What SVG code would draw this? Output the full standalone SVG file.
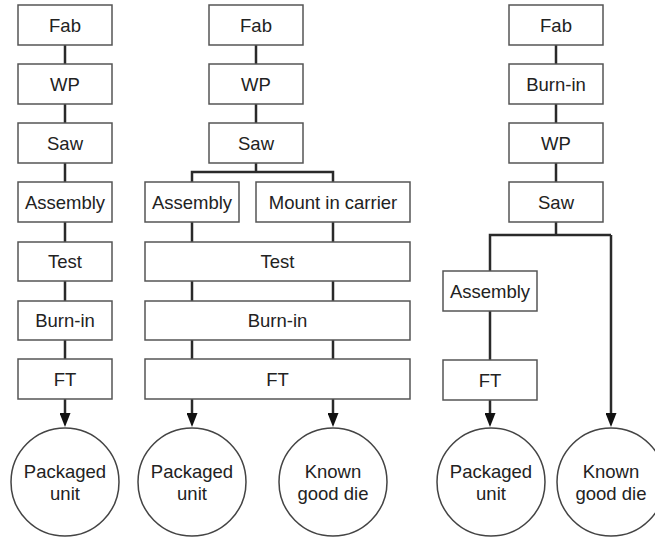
<svg xmlns="http://www.w3.org/2000/svg" width="655" height="539" viewBox="0 0 655 539">
<defs>
<style>
.box{fill:#fff;stroke:#555;stroke-width:1.5}
.circ{fill:#fff;stroke:#444;stroke-width:1.5}
.t{font-family:"Liberation Sans",Arial,sans-serif;font-size:18.5px;fill:#222;text-anchor:middle}
.c{fill:none;stroke:#2a2a2a;stroke-width:2.5}
</style>
<marker id="arr" markerWidth="14" markerHeight="11" refX="8" refY="5.5" orient="auto" markerUnits="userSpaceOnUse" viewBox="0 0 14 11">
<path d="M0,0 L14,5.5 L0,11 Z" fill="#111"/>
</marker>
</defs>
<rect width="655" height="539" fill="#fff"/>
<g id="connectors">
<path class="c" d="M65,45 V64 M65,104 V123 M65,163 V182 M65,222 V242 M65,281 V301 M65,340 V359"/>
<path class="c" d="M65,399 V421" marker-end="url(#arr)"/>
<path class="c" d="M256,45 V64 M256,104 V123 M256,163 V172 M192,182 V172 H333 V182"/>
<path class="c" d="M192,222 V242 M333,222 V242 M192,281 V301 M333,281 V301 M192,340 V359 M333,340 V359"/>
<path class="c" d="M192,399 V421" marker-end="url(#arr)"/>
<path class="c" d="M333,399 V421" marker-end="url(#arr)"/>
<path class="c" d="M556,45 V64 M556,104 V123 M556,163 V182 M556,222 V235 M490,271 V235 H611"/>
<path class="c" d="M611,235 V421" marker-end="url(#arr)"/>
<path class="c" d="M490,311 V360"/>
<path class="c" d="M490,400 V421" marker-end="url(#arr)"/>
</g>
<g id="c1-fab"><rect class="box" x="18" y="5" width="94" height="40"/><text class="t" x="65" y="31.5">Fab</text></g>
<g id="c1-wp"><rect class="box" x="18" y="64" width="94" height="40"/><text class="t" x="65" y="90.5">WP</text></g>
<g id="c1-saw"><rect class="box" x="18" y="123" width="94" height="40"/><text class="t" x="65" y="149.5">Saw</text></g>
<g id="c1-assembly"><rect class="box" x="18" y="182" width="94" height="40"/><text class="t" x="65" y="208.5">Assembly</text></g>
<g id="c1-test"><rect class="box" x="18" y="242" width="94" height="39"/><text class="t" x="65" y="268">Test</text></g>
<g id="c1-burnin"><rect class="box" x="18" y="301" width="94" height="39"/><text class="t" x="65" y="327">Burn-in</text></g>
<g id="c1-ft"><rect class="box" x="18" y="359" width="94" height="40"/><text class="t" x="65" y="385.5">FT</text></g>
<g id="c1-packaged"><circle class="circ" cx="65" cy="482" r="54"/><text class="t" x="65" y="478">Packaged</text><text class="t" x="65" y="500">unit</text></g>

<g id="c2-fab"><rect class="box" x="209" y="5" width="94" height="40"/><text class="t" x="256" y="31.5">Fab</text></g>
<g id="c2-wp"><rect class="box" x="209" y="64" width="94" height="40"/><text class="t" x="256" y="90.5">WP</text></g>
<g id="c2-saw"><rect class="box" x="209" y="123" width="94" height="40"/><text class="t" x="256" y="149.5">Saw</text></g>
<g id="c2-assembly"><rect class="box" x="145" y="182" width="94" height="40"/><text class="t" x="192" y="208.5">Assembly</text></g>
<g id="c2-mount"><rect class="box" x="256" y="182" width="154" height="40"/><text class="t" x="333" y="208.5">Mount in carrier</text></g>
<g id="c2-test"><rect class="box" x="145" y="242" width="265" height="39"/><text class="t" x="277.5" y="268">Test</text></g>
<g id="c2-burnin"><rect class="box" x="145" y="301" width="265" height="39"/><text class="t" x="277.5" y="327">Burn-in</text></g>
<g id="c2-ft"><rect class="box" x="145" y="359" width="265" height="40"/><text class="t" x="277.5" y="385.5">FT</text></g>
<g id="c2-packaged"><circle class="circ" cx="192" cy="482" r="54"/><text class="t" x="192" y="478">Packaged</text><text class="t" x="192" y="500">unit</text></g>
<g id="c2-kgd"><circle class="circ" cx="333" cy="482" r="54"/><text class="t" x="333" y="478">Known</text><text class="t" x="333" y="500">good die</text></g>

<g id="c3-fab"><rect class="box" x="509" y="5" width="94" height="40"/><text class="t" x="556" y="31.5">Fab</text></g>
<g id="c3-burnin"><rect class="box" x="509" y="64" width="94" height="40"/><text class="t" x="556" y="90.5">Burn-in</text></g>
<g id="c3-wp"><rect class="box" x="509" y="123" width="94" height="40"/><text class="t" x="556" y="149.5">WP</text></g>
<g id="c3-saw"><rect class="box" x="509" y="182" width="94" height="40"/><text class="t" x="556" y="208.5">Saw</text></g>
<g id="c3-assembly"><rect class="box" x="443" y="271" width="94" height="40"/><text class="t" x="490" y="297.5">Assembly</text></g>
<g id="c3-ft"><rect class="box" x="443" y="360" width="94" height="40"/><text class="t" x="490" y="386.5">FT</text></g>
<g id="c3-packaged"><circle class="circ" cx="491" cy="482" r="54"/><text class="t" x="491" y="478">Packaged</text><text class="t" x="491" y="500">unit</text></g>
<g id="c3-kgd"><circle class="circ" cx="611" cy="482" r="54"/><text class="t" x="611" y="478">Known</text><text class="t" x="611" y="500">good die</text></g>
</svg>
